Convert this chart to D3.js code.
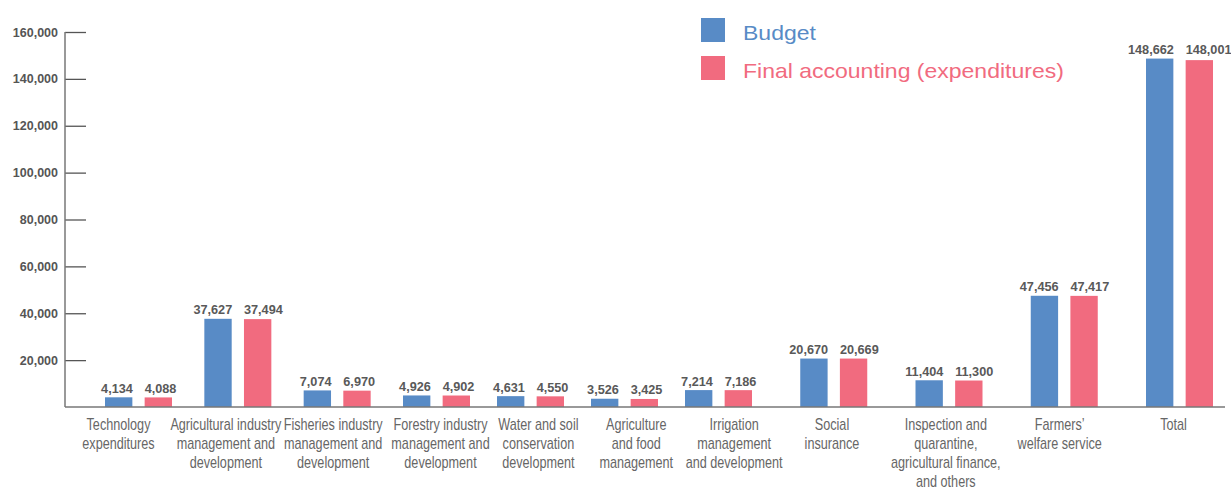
<!DOCTYPE html>
<html><head><meta charset="utf-8">
<script src="https://cdn.jsdelivr.net/npm/d3@7"></script>
<style>
html,body{margin:0;padding:0;background:#fff;}
svg{display:block;font-family:"Liberation Sans",Arial,sans-serif;}
</style></head>
<body><svg id="chart" width="1231" height="488"></svg>
<script>
const categories = [
  "Technology\nexpenditures",
  "Agricultural industry\nmanagement and\ndevelopment",
  "Fisheries industry\nmanagement and\ndevelopment",
  "Forestry industry\nmanagement and\ndevelopment",
  "Water and soil\nconservation\ndevelopment",
  "Agriculture\nand food\nmanagement",
  "Irrigation\nmanagement\nand development",
  "Social\ninsurance",
  "Inspection and\nquarantine,\nagricultural finance,\nand others",
  "Farmers’\nwelfare service",
  "Total"
];
const budget = [4134, 37627, 7074, 4926, 4631, 3526, 7214, 20670, 11404, 47456, 148662];
const finalAccounting = [4088, 37494, 6970, 4902, 4550, 3425, 7186, 20669, 11300, 47417, 148001];
const seriesNames = ["Budget", "Final accounting (expenditures)"];
const yTicks = [20000, 40000, 60000, 80000, 100000, 120000, 140000, 160000];

const colors = ["#588bc6", "#f16b7f"];
const svg = d3.select("#chart");

const y = d3.scaleLinear().domain([0, 160000]).range([407, 32]);
// group (bar pair) centre positions by category slot
const xBar = d3.scaleLinear().domain([0, 3, 6, 10]).range([138.5, 436.5, 718.5, 1179.5]);
// category label centre positions by category slot
const xLab = d3.scaleLinear().domain([0, 3, 7, 10]).range([118.5, 440.5, 832, 1173.5]);
const inner = d3.scaleBand().domain([0, 1]).range([-33.5, 33.5]).paddingInner(0.31);

// y axis
const yAxis = d3.axisLeft(y).tickValues(yTicks).tickFormat(d3.format(",")).tickSize(0).tickPadding(7);
const gy = svg.append("g").attr("transform", "translate(65,0)").call(yAxis);
gy.select(".domain").remove();
gy.selectAll("text").attr("font-size", "12.5px").attr("font-weight", "bold").attr("fill", "#555")
  .attr("font-family", "Liberation Sans, Arial, sans-serif");
gy.selectAll(".tick").append("line").attr("x1", 0).attr("x2", 21).attr("stroke", "#555").attr("stroke-width", 1.3);
svg.append("line").attr("x1", 65).attr("x2", 65).attr("y1", y(160000)).attr("y2", y(0))
  .attr("stroke", "#777").attr("stroke-width", 1.5);

// bars
const groups = svg.append("g").selectAll("g").data(categories).join("g")
  .attr("transform", (d, i) => `translate(${xBar(i)},0)`);
groups.each(function(d, i) {
  const g = d3.select(this);
  const vals = [budget[i], finalAccounting[i]];
  const top = y(d3.max(vals));
  vals.forEach((v, s) => {
    g.append("rect").attr("x", inner(s)).attr("width", inner.bandwidth())
      .attr("y", y(v)).attr("height", y(0) - y(v)).attr("fill", colors[s]);
    g.append("text")
      .attr("x", s === 0 ? inner(s) + inner.bandwidth() + 0.5 : inner(s))
      .attr("y", top - 4.5)
      .attr("text-anchor", s === 0 ? "end" : "start")
      .attr("font-size", "12.7px").attr("font-weight", "bold")
      .attr("fill", "#595959").text(d3.format(",")(v));
  });
});

// x baseline
svg.append("line").attr("x1", 65).attr("x2", 1225).attr("y1", y(0)).attr("y2", y(0))
  .attr("stroke", "#777").attr("stroke-width", 1.5);

// category labels
categories.forEach((c, i) => {
  const t = svg.append("text").attr("transform", `translate(${xLab(i)},0) scale(0.79,1)`)
    .attr("text-anchor", "middle").attr("font-size", "16px").attr("fill", "#666");
  c.split("\n").forEach((line, j) => {
    t.append("tspan").attr("x", 0).attr("y", 430 + j * 19).text(line);
  });
});

// legend
const leg = svg.append("g").selectAll("g").data(seriesNames).join("g")
  .attr("transform", (d, i) => `translate(701,${18 + i * 38})`);
leg.append("rect").attr("width", 24).attr("height", 24).attr("fill", (d, i) => colors[i]);
leg.append("text").attr("transform", "translate(42,21.5) scale(1.15,1)")
  .attr("font-size", "20px")
  .attr("fill", (d, i) => colors[i]).text(d => d);
</script></body></html>
